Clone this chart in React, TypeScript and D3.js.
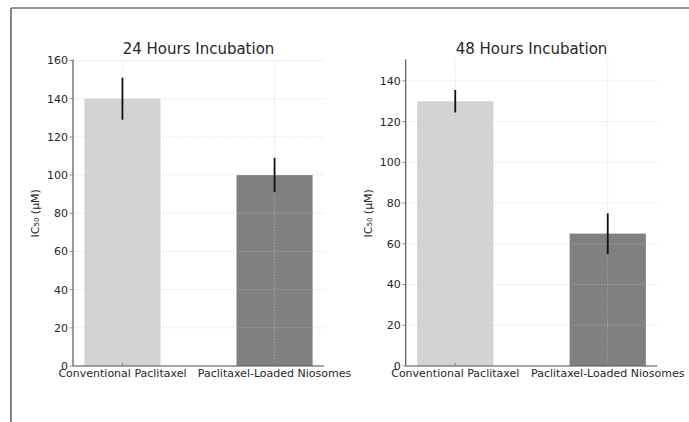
import React from "react";
import * as d3 from "d3";

const categories = ["Conventional Paclitaxel", "Paclitaxel-Loaded Niosomes"];
const titles = ["24 Hours Incubation", "48 Hours Incubation"];
const values24 = [140, 100];
const errors24 = [11, 9];
const values48 = [130, 65];
const errors48 = [5.5, 10];
const yTicks24 = [0, 20, 40, 60, 80, 100, 120, 140, 160];
const yTicks48 = [0, 20, 40, 60, 80, 100, 120, 140];
const yMax = [160, 150];
const barColors = ["#d3d3d3", "#808080"];

const W = 689;
const H = 422;
const FONT = "DejaVu Sans, sans-serif";

type PanelProps = {
  x0: number;
  x1: number;
  title: string;
  values: number[];
  errors: number[];
  ticks: number[];
  ymax: number;
};

function Panel({ x0, x1, title, values, errors, ticks, ymax }: PanelProps) {
  const yTop = 60.5;
  const yBottom = 366;
  const x = d3.scaleLinear().domain([-0.325, 1.325]).range([x0, x1]);
  const y = d3.scaleLinear().domain([0, ymax]).range([yBottom, yTop]);
  const bw = 0.5;
  const grid = { stroke: "#c8c8c8", strokeWidth: 0.8, strokeDasharray: "1.2,2" };
  return (
    <g>
      {values.map((v, i) => (
        <rect
          key={"b" + i}
          x={x(i - bw / 2)}
          width={x(i + bw / 2) - x(i - bw / 2)}
          y={y(v)}
          height={y(0) - y(v)}
          fill={barColors[i]}
        />
      ))}
      {ticks.map((t) => (
        <line key={"g" + t} x1={x0} x2={x1} y1={y(t)} y2={y(t)} {...grid} opacity={0.8} />
      ))}
      {categories.map((c, i) => (
        <line key={"vg" + i} x1={x(i)} x2={x(i)} y1={yTop} y2={yBottom} {...grid} opacity={0.8} />
      ))}
      {values.map((v, i) => (
        <line
          key={"e" + i}
          x1={x(i)}
          x2={x(i)}
          y1={y(v - errors[i])}
          y2={y(v + errors[i])}
          stroke="#111"
          strokeWidth={1.8}
        />
      ))}
      <line x1={x0} x2={x0} y1={yTop - 1} y2={yBottom} stroke="#555" strokeWidth={1.2} />
      <line x1={x0} x2={x1} y1={yBottom} y2={yBottom} stroke="#555" strokeWidth={1.2} />
      {ticks.map((t) => (
        <g key={"t" + t}>
          <line x1={x0 - 3.5} x2={x0} y1={y(t)} y2={y(t)} stroke="#777" strokeWidth={0.8} />
          <text
            x={x0 - 5}
            y={y(t)}
            dy="0.36em"
            textAnchor="end"
            fontFamily={FONT}
            fontSize={11}
            fill="#262626"
          >
            {t}
          </text>
        </g>
      ))}
      {categories.map((c, i) => (
        <g key={"xl" + i}>
          <line x1={x(i)} x2={x(i)} y1={yBottom} y2={yBottom - 3} stroke="#777" strokeWidth={0.8} />
          <text
            x={x(i)}
            y={377}
            textAnchor="middle"
            fontFamily={FONT}
            fontSize={11}
            fill="#262626"
          >
            {c}
          </text>
        </g>
      ))}
      <text
        transform={`translate(${x0 - 34},${(yTop + yBottom) / 2}) rotate(-90)`}
        textAnchor="middle"
        fontFamily={FONT}
        fontSize={11}
        fill="#262626"
      >
        IC₅₀ (µM)
      </text>
      <text
        x={(x0 + x1) / 2}
        y={54}
        textAnchor="middle"
        fontFamily={FONT}
        fontSize={15}
        fill="#262626"
      >
        {title}
      </text>
    </g>
  );
}

export default function App() {
  return (
    <div style={{ position: "absolute", left: 0, top: 0 }}>
      <svg width={W} height={H} style={{ display: "block", background: "#fff" }}>
        <line x1={11} x2={W} y1={8} y2={8} stroke="#333" strokeWidth={1.2} />
        <line x1={11} x2={11} y1={8} y2={H} stroke="#333" strokeWidth={1.2} />
        <Panel
          x0={73}
          x1={324}
          title={titles[0]}
          values={values24}
          errors={errors24}
          ticks={yTicks24}
          ymax={yMax[0]}
        />
        <Panel
          x0={405.7}
          x1={657.3}
          title={titles[1]}
          values={values48}
          errors={errors48}
          ticks={yTicks48}
          ymax={yMax[1]}
        />
      </svg>
    </div>
  );
}
